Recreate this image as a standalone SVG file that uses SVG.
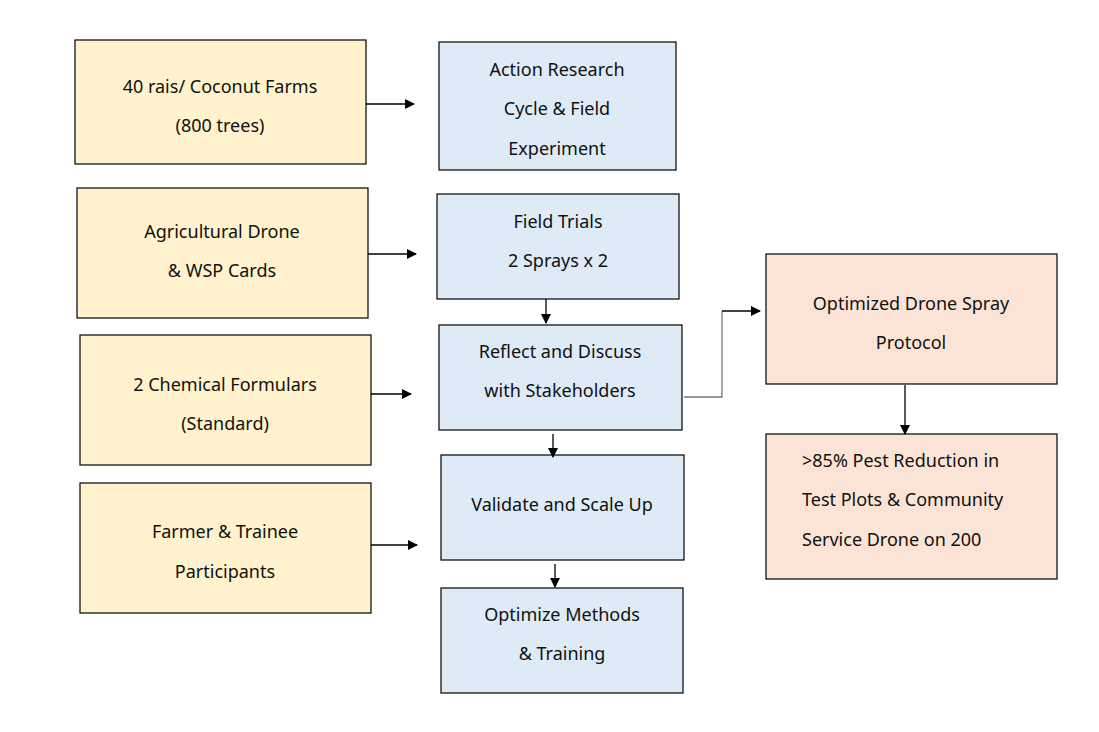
<svg xmlns="http://www.w3.org/2000/svg" width="1099" height="732" viewBox="0 0 1099 732">
<style>
rect{stroke:#000;stroke-width:1.2}
.y{fill:#FFF2CC}.b{fill:#DEEAF6}.p{fill:#FBE4D5}
text{font-family:"Noto Sans","DejaVu Sans",sans-serif;font-size:18px;fill:#111;text-anchor:middle}
.c line,.c path{stroke:#000;stroke-width:1.3;fill:none}
</style>
<defs><marker id="a" markerWidth="10" markerHeight="10" refX="9" refY="5" orient="auto" markerUnits="userSpaceOnUse"><path d="M0,0 L10,5 L0,10 z" fill="#000"/></marker></defs>
<rect width="1099" height="732" fill="#fff" style="stroke:none"/>
<g id="y1"><rect class="y" x="75" y="40" width="291" height="124"/><text x="220" y="93">40 rais/ Coconut Farms</text><text x="220" y="132">(800 trees)</text></g>
<g id="y2"><rect class="y" x="77" y="188" width="291" height="130"/><text x="222" y="238">Agricultural Drone</text><text x="222" y="277">&amp; WSP Cards</text></g>
<g id="y3"><rect class="y" x="80" y="335" width="291" height="130"/><text x="225" y="391">2 Chemical Formulars</text><text x="225" y="430">(Standard)</text></g>
<g id="y4"><rect class="y" x="80" y="483" width="291" height="130"/><text x="225" y="538">Farmer &amp; Trainee</text><text x="225" y="578">Participants</text></g>
<g id="b1"><rect class="b" x="439" y="42" width="237" height="128"/><text x="557" y="76">Action Research</text><text x="557" y="115">Cycle &amp; Field</text><text x="557" y="155">Experiment</text></g>
<g id="b2"><rect class="b" x="437" y="194" width="242" height="105"/><text x="558" y="228">Field Trials</text><text x="558" y="267">2 Sprays x 2</text></g>
<g id="b3"><rect class="b" x="439" y="325" width="243" height="105"/><text x="560" y="358">Reflect and Discuss</text><text x="560" y="397">with Stakeholders</text></g>
<g id="b4"><rect class="b" x="441" y="455" width="243" height="105"/><text x="562" y="511">Validate and Scale Up</text></g>
<g id="b5"><rect class="b" x="441" y="588" width="242" height="105"/><text x="562" y="621">Optimize Methods</text><text x="562" y="660">&amp; Training</text></g>
<g id="p1"><rect class="p" x="766" y="254" width="291" height="130"/><text x="911" y="310">Optimized Drone Spray</text><text x="911" y="349">Protocol</text></g>
<g id="p2"><rect class="p" x="766" y="434" width="291" height="145"/><text x="802" y="467" style="text-anchor:start">&gt;85% Pest Reduction in</text><text x="802" y="506" style="text-anchor:start">Test Plots &amp; Community</text><text x="802" y="546" style="text-anchor:start">Service Drone on 200</text></g>
<g class="c" id="connectors">
<line x1="366" y1="104" x2="414" y2="104" marker-end="url(#a)"/>
<line x1="368" y1="254" x2="416" y2="254" marker-end="url(#a)"/>
<line x1="371" y1="394" x2="411" y2="394" marker-end="url(#a)"/>
<line x1="371" y1="545" x2="417" y2="545" marker-end="url(#a)"/>
<line x1="546" y1="299" x2="546" y2="323" marker-end="url(#a)"/>
<line x1="553" y1="434" x2="553" y2="457" marker-end="url(#a)"/>
<line x1="555" y1="564" x2="555" y2="587" marker-end="url(#a)"/>
<path d="M684,397 H722 V311" style="stroke:#777"/>
<line x1="722" y1="311" x2="760" y2="311" marker-end="url(#a)"/>
<line x1="905" y1="385" x2="905" y2="434" marker-end="url(#a)"/>
</g>
</svg>
